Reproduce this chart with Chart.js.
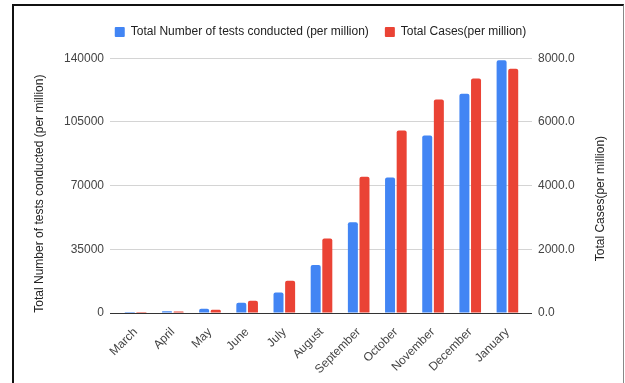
<!doctype html>
<html lang="en">
    <head>
        <meta charset="utf-8" />
        <title>Tests and cases per million</title>
        <script src="https://cdn.jsdelivr.net/npm/chart.js@4/dist/chart.umd.min.js"></script>
        <style>
            html, body { margin: 0; padding: 0; background: #fff; }
            #frame {
                position: absolute; left: 12px; top: 4px; width: 609px; height: 400px;
                border-left: 2px solid #111; border-top: 2px solid #111; border-right: 1px solid #888;
            }
            #box { position: absolute; left: 0; top: 0; width: 625px; height: 383px; }
        </style>
    </head>
    <body>
        <div id="frame"></div>
        <div id="box">
            <canvas id="myChart"></canvas>
        </div>

        <script>
            // mesi e valori per milione
            const months = ['March', 'April', 'May', 'June', 'July', 'August', 'September', 'October', 'November', 'December', 'January'];
            const testsPerMillion = [30, 900, 2350, 5600, 11300, 26400, 49800, 74400, 97500, 120500, 138900];
            const casesPerMillion = [1, 50, 100, 385, 1010, 2340, 4280, 5730, 6700, 7360, 7670];

            const testsTicks = [0, 35000, 70000, 105000, 140000];
            const casesTicks = [0, 2000, 4000, 6000, 8000];

            const testsTitle = 'Total Number of tests conducted (per million)';
            const casesTitle = 'Total Cases(per million)';

            const blue = '#4285F4';
            const red = '#EA4335';
            const gridColor = '#d4d4d4';
            const font = 'Liberation Sans, Arial, sans-serif';

            // colore griglia: linea dello zero più scura
            function gridFor(ctx) {
                return ctx.tick && ctx.tick.value === 0 ? '#333' : gridColor;
            }

            // titoli degli assi verticali, entrambi letti dal basso verso l'alto
            const axisTitles = {
                id: 'axisTitles',
                afterDraw: function(chart) {
                    const ctx = chart.ctx;
                    const left = chart.scales.y;
                    const right = chart.scales.y1;
                    const midY = (left.top + left.bottom) / 2;
                    ctx.save();
                    ctx.fillStyle = '#222';
                    ctx.font = '12px ' + font;
                    ctx.textAlign = 'center';
                    ctx.textBaseline = 'middle';
                    [[left.left + 11, midY + 8, testsTitle], [right.right - 11, midY + 13, casesTitle]].forEach(function(t) {
                        ctx.save();
                        ctx.translate(t[0], t[1]);
                        ctx.rotate(-Math.PI / 2);
                        ctx.fillText(t[2], 0, 0);
                        ctx.restore();
                    });
                    ctx.restore();
                }
            };

            const mychart = new Chart(document.getElementById('myChart'), {
                type: 'bar',
                data: {
                    labels: months,
                    datasets: [{
                        label: testsTitle,
                        data: testsPerMillion,
                        backgroundColor: blue,
                        borderWidth: 0,
                        borderRadius: 2,
                        yAxisID: 'y',
                        categoryPercentage: 0.625,
                        barPercentage: 0.86
                    }, {
                        label: casesTitle,
                        data: casesPerMillion,
                        backgroundColor: red,
                        borderWidth: 0,
                        borderRadius: 2,
                        yAxisID: 'y1',
                        categoryPercentage: 0.625,
                        barPercentage: 0.86
                    }]
                },
                plugins: [axisTitles],
                options: {
                    responsive: true,
                    maintainAspectRatio: false,
                    animation: false,
                    layout: {
                        padding: {top: 10, left: 29, right: 13, bottom: 0}
                    },
                    scales: {
                        x: {
                            grid: {display: false},
                            border: {display: false},
                            ticks: {
                                color: '#444',
                                font: {family: font, size: 12},
                                maxRotation: 45,
                                minRotation: 45,
                                padding: 4,
                                autoSkip: false
                            },
                            afterFit: function(scale) { scale.height = 70; }
                        },
                        y: {
                            position: 'left',
                            min: 0,
                            max: 140000,
                            afterBuildTicks: function(scale) {
                                scale.ticks = testsTicks.map(function(v) { return {value: v}; });
                            },
                            grid: {color: gridFor, tickColor: gridFor, tickLength: 7, lineWidth: 1},
                            border: {display: false},
                            ticks: {
                                color: '#444',
                                font: {family: font, size: 12},
                                padding: 6,
                                callback: function(v) { return String(v); }
                            },
                            afterFit: function(scale) { scale.width = 88; }
                        },
                        y1: {
                            position: 'right',
                            min: 0,
                            max: 8000,
                            afterBuildTicks: function(scale) {
                                scale.ticks = casesTicks.map(function(v) { return {value: v}; });
                            },
                            grid: {drawOnChartArea: false, color: gridFor, tickColor: gridFor, tickLength: 6},
                            border: {display: false},
                            ticks: {
                                color: '#444',
                                font: {family: font, size: 12},
                                padding: 6,
                                callback: function(v) { return Number(v).toFixed(1); }
                            },
                            afterFit: function(scale) { scale.width = 86; }
                        }
                    },
                    plugins: {
                        legend: {
                            position: 'top',
                            labels: {
                                boxWidth: 10,
                                boxHeight: 10,
                                padding: 16,
                                color: '#222',
                                font: {family: font, size: 12},
                                useBorderRadius: true,
                                borderRadius: 1
                            }
                        },
                        // spazio vuoto tra legenda e area del grafico
                        subtitle: {
                            display: true,
                            text: '',
                            position: 'top',
                            weight: 500,
                            font: {size: 1},
                            padding: {top: 0, bottom: 9}
                        },
                        tooltip: {enabled: false}
                    }
                }
            });
        </script>
    </body>
</html>
